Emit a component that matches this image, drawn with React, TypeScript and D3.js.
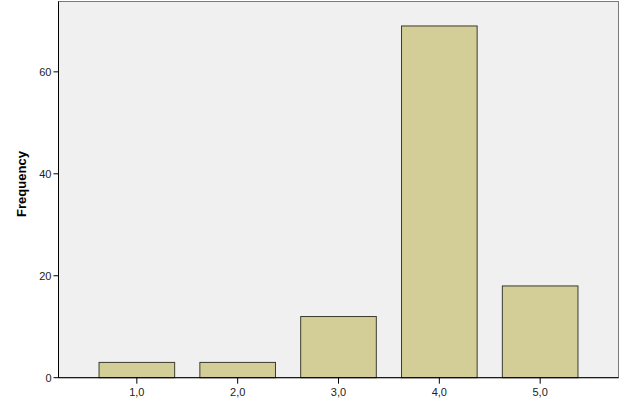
import React from "react";
import * as d3 from "d3";

const categories = ["1,0", "2,0", "3,0", "4,0", "5,0"];
const frequencies = [3, 3, 12, 69, 18];
const yTicks = [0, 20, 40, 60];

export default function App() {
  const W = 626, H = 407;
  const left = 58.5, right = 618.5, top = 1.5, bottom = 377.7;
  const x = d3.scaleBand<string>().domain(categories).range([left, right]).paddingInner(0.25).paddingOuter(0.402);
  const y = d3.scaleLinear().domain([0, 73.8]).range([bottom, top]);
  return (
    <svg width={W} height={H} style={{ position: "absolute", left: 0, top: 0 }} fontFamily="Arial, 'Liberation Sans', sans-serif">
      <rect x={0} y={0} width={W} height={H} fill="#ffffff" />
      <rect x={left} y={top} width={right - left} height={bottom - top} fill="#f0f0f0" stroke="#7a7a7a" strokeWidth={1} />
      {categories.map((c, i) => (
        <rect key={c} x={x(c)!} y={y(frequencies[i])} width={x.bandwidth()} height={bottom - y(frequencies[i])}
          fill="#d3ce97" stroke="#3a3a30" strokeWidth={1} />
      ))}
      <line x1={left} x2={left} y1={top} y2={bottom} stroke="#000" strokeWidth={1} />
      <line x1={left} x2={right} y1={bottom} y2={bottom} stroke="#000" strokeWidth={1} />
      {yTicks.map(t => (
        <g key={t}>
          <line x1={left - 5} x2={left} y1={y(t)} y2={y(t)} stroke="#000" />
          <text x={left - 7} y={y(t)} dy="0.35em" textAnchor="end" fontSize={11} fill="#222">{t}</text>
        </g>
      ))}
      {categories.map(c => {
        const cx = x(c)! + x.bandwidth() / 2;
        return (
          <g key={c}>
            <line x1={cx} x2={cx} y1={bottom} y2={bottom + 6} stroke="#000" />
            <text x={cx} y={bottom + 14} dy="0.35em" textAnchor="middle" fontSize={11} fill="#222">{c}</text>
          </g>
        );
      })}
      <text transform={`translate(26,184) rotate(-90)`} textAnchor="middle" fontSize={13} fontWeight="bold" fill="#000">Frequency</text>
    </svg>
  );
}
